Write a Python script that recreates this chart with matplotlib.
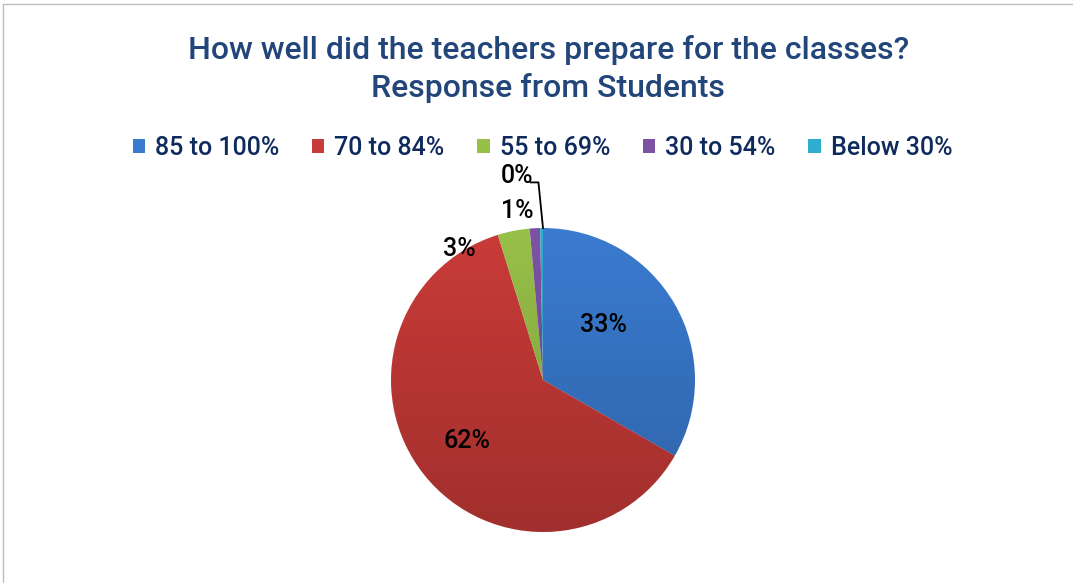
import matplotlib.pyplot as plt
import numpy as np
from matplotlib.lines import Line2D

plt.rcParams["font.family"] = ["Roboto", "DejaVu Sans"]
plt.rcParams["font.weight"] = 500

categories = ["85 to 100%", "70 to 84%", "55 to 69%", "30 to 54%", "Below 30%"]
shares = [33.3, 61.9, 3.4, 1.1, 0.3]
labels = ["33%", "62%", "3%", "1%", "0%"]
colors = ["#3a7bd0", "#c93b38", "#97c048", "#7d52a3", "#30acd0"]

W, H = 1073, 583
fig = plt.figure(figsize=(W / 100, H / 100), dpi=100, facecolor="white")

# thin grey frame on the top and left edges
fig.add_artist(Line2D([3 / W, 1], [1 - 4 / H, 1 - 4 / H], color="#bdbdbd", lw=1))
fig.add_artist(Line2D([3 / W, 3 / W], [0, 1 - 4 / H], color="#bdbdbd", lw=1))

cx, cy, r = 543, 380, 152
ax = fig.add_axes([(cx - r) / W, (H - cy - r) / H, 2 * r / W, 2 * r / H])
wedges, _ = ax.pie(shares, colors=colors, startangle=90, counterclock=False,
                   radius=1, wedgeprops=dict(linewidth=0))

# soft vertical shading: lighter at top, darker at bottom
grad = np.linspace(1, 0, 256).reshape(-1, 1)
shade = np.zeros((256, 1, 4))
shade[..., 3] = 0.2 * grad
img = ax.imshow(shade, extent=(-1, 1, -1, 1), origin="lower", zorder=3, aspect="auto")
img.set_clip_path(plt.Circle((0, 0), 1, transform=ax.transData))
ax.set_xlim(-1, 1)
ax.set_ylim(-1, 1)
ax.set_aspect("equal")
ax.axis("off")

label_pos = [(0.40, 0.36), (-0.50, -0.40), (-0.55, 0.86), (-0.17, 1.11), (-0.17, 1.34)]
for txt, (x, y) in zip(labels, label_pos):
    ax.text(x, y, txt, ha="center", va="center", fontsize=18, color="black",
            zorder=5, clip_on=False)
ax.plot([-0.08, -0.03, 0.0], [1.30, 1.30, 1.0], color="black", lw=1.3,
        clip_on=False, zorder=4)

fig.text(0.511, 1 - 50 / H, "How well did the teachers prepare for the classes?",
         ha="center", va="center", fontsize=23, color="#22467a")
fig.text(0.511, 1 - 88 / H, "Response from Students",
         ha="center", va="center", fontsize=23, color="#22467a")

fig.legend(wedges, categories, loc="center", bbox_to_anchor=(0.5055, 1 - 148 / H),
           ncol=5, frameon=False, fontsize=18, handlelength=0.5, handleheight=0.5,
           handletextpad=0.4, columnspacing=1.3, labelcolor="#0f2a5c")

fig.savefig("out.png", dpi=100, facecolor="white")
